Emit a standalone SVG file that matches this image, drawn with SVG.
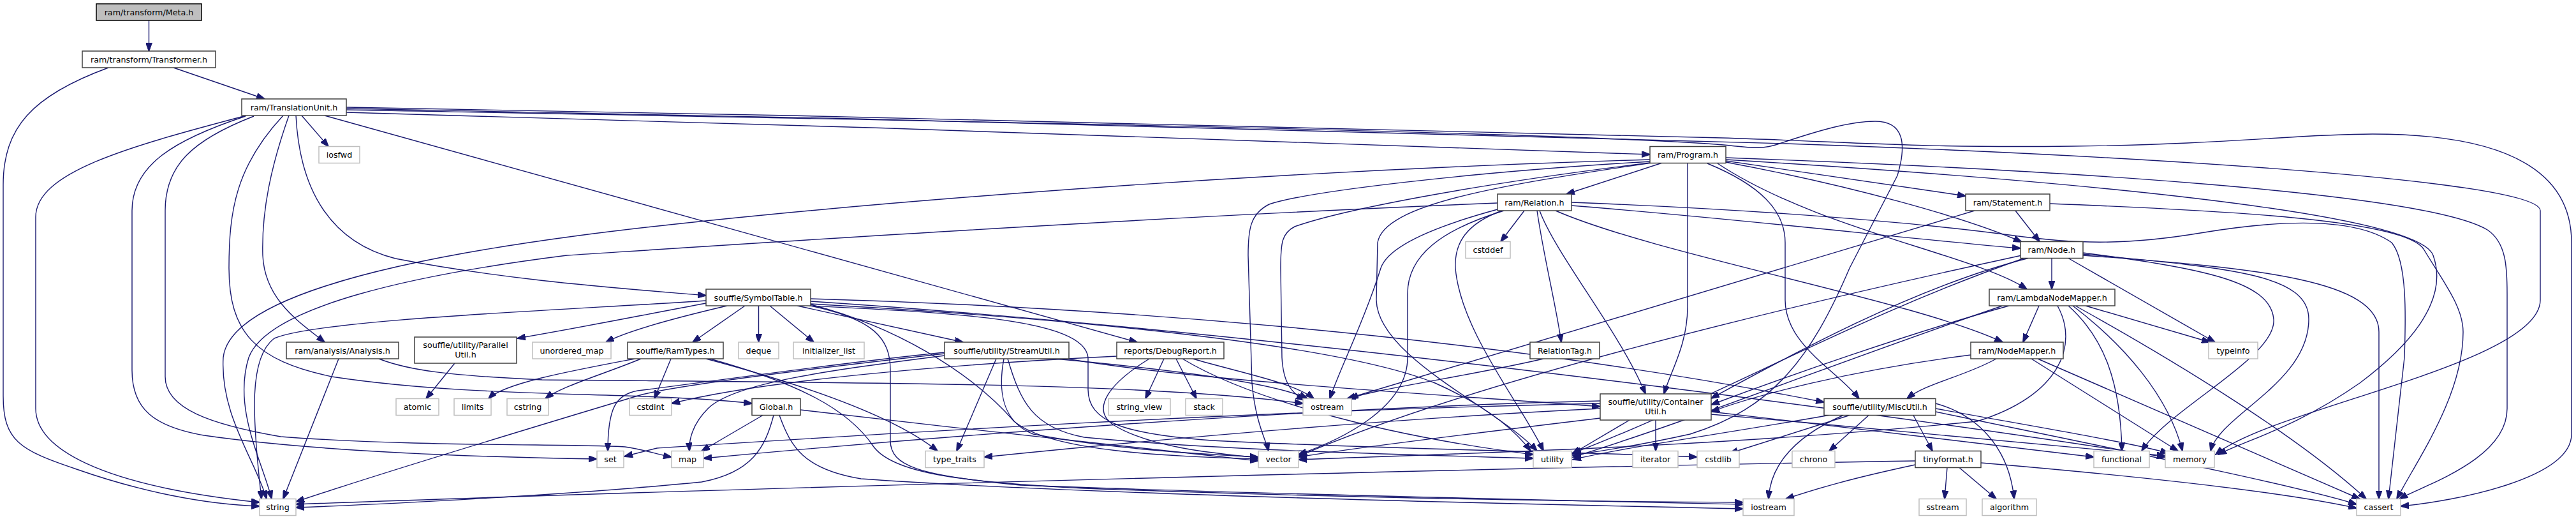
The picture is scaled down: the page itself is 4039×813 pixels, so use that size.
<svg xmlns="http://www.w3.org/2000/svg" width="4039" height="813" viewBox="0 0 4039 813">
<style>
.d{fill:#fff;stroke:#404040;stroke-width:1.5}
.s{fill:#fff;stroke:#bfbfbf;stroke-width:1.5}
.r{fill:#bfbfbf;stroke:#000;stroke-width:1.5}
text{font-family:"DejaVu Sans","Liberation Sans",sans-serif;font-size:12.7px;fill:#000;text-anchor:middle}
.e path{fill:none;stroke:#191970;stroke-width:1.4;marker-end:url(#a)}
</style>
<defs>
<marker id="a" markerWidth="14" markerHeight="10" refX="13" refY="5" orient="auto" markerUnits="userSpaceOnUse"><path d="M0,0 L14,5 L0,10 z" fill="#191970" stroke="#191970" stroke-width="1"/></marker>
</defs>
<rect width="4039" height="813" fill="#fff"/>
<g id="edges" class="e">
<path d="M233.5,32 L233.5,80"/>
<path d="M272,106 L415,155"/>
<path d="M170,106 C50,150 5,200 5,290 L5,620 C5,690 30,705 120,735 C220,770 320,790 407,793"/>
<path d="M386,181 C200,230 56,270 56,340 L56,640 C56,700 150,760 407,787"/>
<path d="M385,182 C270,220 207,260 207,330 L207,580 C207,640 240,668 320,682 C500,708 750,716 936,719"/>
<path d="M398,182 C300,220 259,260 259,330 L259,590 C259,640 330,665 440,684 C650,700 900,695 980,700 C1010,704 1030,712 1053,716"/>
<path d="M453,181 C425,260 410,330 412,400 C415,470 470,505 509,536"/>
<path d="M444,181 C370,260 359,330 359,420 C359,520 400,565 520,590 C750,625 1000,612 1179,632"/>
<path d="M464,181 C470,300 520,380 620,405 C800,440 980,452 1107,463"/>
<path d="M473,181 L515,229.5"/>
<path d="M509,181 L1783,536"/>
<path d="M543,176 C1200,192 2000,222 2587,242"/>
<path d="M543,168 C1300,180 2300,205 2700,216 C2900,222 3000,232 3250,229 C3500,226 3600,210 3720,210 C3950,210 4032,280 4032,380 L4032,680 C4032,750 3850,785 3764,793"/>
<path d="M543,170 C1300,183 2300,208 2800,225 C3300,242 3983,280 3983,330 L3983,470 C3983,570 3560,640 3474,712"/>
<path d="M543,172 C1300,186 2400,205 2690,226 C2740,230 2760,236 2790,225 C2850,205 2900,190 2940,190 C2985,190 2990,225 2975,275 L2900,420 C2840,560 2780,640 2650,680 C2560,700 2500,708 2466,713"/>
<path d="M531,562 L444,781.5"/>
<path d="M594,562 C640,580 700,588 850,595 C1400,600 1800,600 2043,632"/>
<path d="M2605,255.5 L2456,304"/>
<path d="M2706,252 L3082,307"/>
<path d="M2706,254 C2900,290 3080,340 3170,379"/>
<path d="M2693,256 C2850,360 3100,400 3178,453"/>
<path d="M2646,255.5 L2646,480 C2646,540 2620,580 2609,617"/>
<path d="M2677,256 C2760,290 2799,330 2799,380 L2799,470 C2799,540 2880,580 2915,624.5"/>
<path d="M2706,247 C3200,265 3800,300 3900,360 C3930,380 3931,420 3931,460 L3931,640 C3931,720 3800,760 3762,781.5"/>
<path d="M2706,250 C3200,280 3790,330 3815,400 C3840,470 3780,540 3700,600 C3600,670 3520,690 3478,712"/>
<path d="M2587,250 C1900,270 1200,330 900,370 C600,410 360,470 350,560 C345,650 400,720 418,781.5"/>
<path d="M2587,253 C2300,270 2050,300 1990,320 C1960,335 1957,360 1957,400 L1963,600 C1968,660 1985,690 1989,706.5"/>
<path d="M2587,255 C2300,290 2100,330 2030,355 C2010,365 2008,380 2008,420 L2010,560 C2012,600 2025,615 2045,627"/>
<path d="M2590,255 C2350,290 2170,320 2160,380 L2158,470 C2160,560 2350,640 2410,706.5"/>
<path d="M2464,322 C2750,345 3000,375 3168,389"/>
<path d="M2464,317 C2800,330 3030,352 3150,368 C3250,382 3330,385 3450,365 C3600,340 3700,345 3750,380 C3775,410 3772,500 3770,560 L3745,781.5"/>
<path d="M2439,330 C2600,400 3000,470 3140,536"/>
<path d="M2390,330 L2353,378.5"/>
<path d="M2410,330 C2420,400 2440,480 2448,536"/>
<path d="M2414,330 C2440,400 2540,520 2580,617"/>
<path d="M2355,330 C2300,350 2280,380 2282,420 C2290,520 2390,640 2420,706.5"/>
<path d="M2358,330 C2260,360 2207,400 2207,460 L2207,560 C2207,640 2100,690 2036,712"/>
<path d="M2348,328 C2230,360 2175,390 2165,420 C2140,500 2100,580 2085,624.5"/>
<path d="M2348,318 C1800,340 1200,380 889,400 C650,430 420,480 390,560 C365,640 410,720 426,781.5"/>
<path d="M3160,330 L3198,378.5"/>
<path d="M3096,330 L2112,624.5"/>
<path d="M3214,319 C3500,330 3770,345 3800,390 C3830,440 3862,480 3862,520 C3862,620 3790,720 3758,781.5"/>
<path d="M3217,404.5 L3217,453"/>
<path d="M3243,404.5 L3473,536"/>
<path d="M3266,396 C3450,420 3560,440 3565,500 C3570,560 3400,640 3358,706.5"/>
<path d="M3266,398 C3500,420 3620,430 3620,500 C3620,600 3480,650 3466,706.5"/>
<path d="M3266,400 C3550,420 3730,440 3730,520 L3730,781.5"/>
<path d="M3180,404.5 C3000,450 2800,560 2683,624"/>
<path d="M3175,404 C2900,500 2700,620 2466,710"/>
<path d="M3170,400 C2800,480 2300,600 2036,715"/>
<path d="M3197,479 L3172,536"/>
<path d="M3270,479 L3465,536"/>
<path d="M3243,479 C3300,530 3325,600 3327,706.5"/>
<path d="M3250,479 C3330,540 3400,620 3422,706.5"/>
<path d="M3254,479 C3400,560 3600,680 3710,781.5"/>
<path d="M3150,479 C3000,520 2800,590 2683,634"/>
<path d="M3140,479 C2900,560 2650,660 2466,716"/>
<path d="M3226,479 C3260,540 3230,620 3100,660 C2700,700 2300,710 2036,720"/>
<path d="M3185,562 L3415,706.5"/>
<path d="M3195,562 L3700,781.5"/>
<path d="M3090,556 C2900,580 2750,620 2683,645"/>
<path d="M3130,562 C3080,590 3020,600 2990,624.5"/>
<path d="M1168,479 L1086,536"/>
<path d="M1189.5,479 L1189.5,536"/>
<path d="M1207,479 L1276,536"/>
<path d="M1250,479 L1510,536"/>
<path d="M1107,475 C1000,495 900,515 811,530"/>
<path d="M1140,479 C1050,500 980,520 950,536"/>
<path d="M1107,471 C900,485 500,500 430,530 C390,560 395,650 410,781.5"/>
<path d="M1271,468 C1700,480 2300,520 2860,630"/>
<path d="M1271,472 C2000,520 2900,640 3395,716"/>
<path d="M1271,479 C1370,500 1396,530 1396,580 L1396,690 C1396,730 1440,745 1600,760 C2000,775 2500,785 2733,790"/>
<path d="M1271,477 C1400,510 1520,580 1590,660 C1650,710 1850,715 1973,719"/>
<path d="M1268,479 C1500,490 1700,500 1706,560 L1706,610 C1706,660 1760,680 1900,690 C2200,705 2500,708 2661,716"/>
<path d="M1271,476 C1700,500 2100,540 2250,600 C2340,640 2380,680 2400,706.5"/>
<path d="M1052,562 L1026,624.5"/>
<path d="M995,562 C900,580 790,600 766,624.5"/>
<path d="M1005,562 C950,585 880,605 855,624.5"/>
<path d="M1107,562 C1250,600 1400,650 1470,706.5"/>
<path d="M1113,562 C1250,600 1330,640 1370,700 C1400,740 1500,755 1700,765 C2100,780 2500,786 2733,787"/>
<path d="M713,569 L668,624.5"/>
<path d="M1481,557 C1300,580 1150,600 1110,640 C1085,665 1080,690 1081,706.5"/>
<path d="M1481,554 C1250,580 1050,605 1000,620 C900,650 600,740 464,786"/>
<path d="M1481,552 C1300,570 1100,600 1000,612 C965,618 953,640 953,706.5"/>
<path d="M1562,562 L1500,706.5"/>
<path d="M1574,562 C1565,610 1570,660 1620,680 C1750,705 1900,712 1973,716"/>
<path d="M1580,562 C1600,630 1620,670 1700,685 C1900,705 2200,712 2404,718"/>
<path d="M1654,562 C1850,580 2000,600 2050,624.5"/>
<path d="M1673,562 C1900,600 2300,620 2509,637"/>
<path d="M1825,562 L1796,624.5"/>
<path d="M1844,562 L1876,624.5"/>
<path d="M1802,562 C1740,600 1710,640 1745,665 C1800,700 1900,710 1973,717"/>
<path d="M1751,558 C1500,570 1200,595 1053,632"/>
<path d="M1870,562 C1950,585 2030,600 2060,624.5"/>
<path d="M1854,562 C1950,620 2150,680 2404,712"/>
<path d="M1196,650.5 L1100,706.5"/>
<path d="M1213,650.5 C1200,700 1180,740 1100,755 C900,775 600,790 464,795"/>
<path d="M1255,642 C1500,670 1800,705 1973,722"/>
<path d="M1222,650.5 C1240,700 1260,735 1350,750 C1700,775 2400,790 2733,797"/>
<path d="M2555,658 L2465,711"/>
<path d="M2596,658 L2596,706.5"/>
<path d="M2683,645 C2900,670 3150,700 3283,716"/>
<path d="M2683,649 C2950,672 3250,700 3395,714"/>
<path d="M2509,628 C2000,640 1400,690 1103,718"/>
<path d="M2509,632 C1900,645 1300,685 1030,702 L979,715"/>
<path d="M2509,640 C2100,660 1700,700 1543,716"/>
<path d="M2509,655 C2300,680 2100,705 2036,716"/>
<path d="M3000,650.5 L3030,706.5"/>
<path d="M2930,650.5 L2868,706.5"/>
<path d="M2900,650.5 L2712,710"/>
<path d="M2890,650.5 C2800,690 2775,740 2773,781.5"/>
<path d="M2870,650 C2700,680 2550,700 2466,720"/>
<path d="M3035,640 C3200,670 3350,695 3400,710"/>
<path d="M3035,645 C3300,700 3600,760 3695,790"/>
<path d="M3035,632 C3100,650 3150,700 3158,781.5"/>
<path d="M3053,732.5 L3049,781.5"/>
<path d="M3072,732.5 L3130,781.5"/>
<path d="M3106,725 C3400,750 3600,775 3695,796"/>
<path d="M3003,728 C2900,750 2850,765 2800,781.5"/>
<path d="M3003,722 C2200,735 1000,770 464,790"/>
<path d="M2420,562 C2300,590 2150,610 2117,624.5"/>
</g>
<g id="nodes">
<g id="n_meta"><rect class="r" x="151" y="6" width="165" height="26"/><text x="233.5" y="23.5">ram/transform/Meta.h</text></g>
<g id="n_transformer"><rect class="d" x="129" y="80" width="209" height="26"/><text x="233.5" y="97.5">ram/transform/Transformer.h</text></g>
<g id="n_tu"><rect class="d" x="379" y="155" width="164" height="26"/><text x="461" y="172.5">ram/TranslationUnit.h</text></g>
<g id="n_iosfwd"><rect class="s" x="500" y="229.5" width="64" height="26"/><text x="532" y="247">iosfwd</text></g>
<g id="n_program"><rect class="d" x="2587" y="229.5" width="119" height="26"/><text x="2646.5" y="247">ram/Program.h</text></g>
<g id="n_relation"><rect class="d" x="2348" y="304" width="116" height="26"/><text x="2406" y="321.5">ram/Relation.h</text></g>
<g id="n_statement"><rect class="d" x="3082" y="304" width="132" height="26"/><text x="3148" y="321.5">ram/Statement.h</text></g>
<g id="n_cstddef"><rect class="s" x="2298" y="378.5" width="70" height="26"/><text x="2333" y="396">cstddef</text></g>
<g id="n_node"><rect class="d" x="3168" y="378.5" width="98" height="26"/><text x="3217" y="396">ram/Node.h</text></g>
<g id="n_symboltable"><rect class="d" x="1107" y="453" width="164" height="26"/><text x="1189" y="470.5">souffle/SymbolTable.h</text></g>
<g id="n_lnm"><rect class="d" x="3119" y="453" width="197" height="26"/><text x="3217.5" y="470.5">ram/LambdaNodeMapper.h</text></g>
<g id="n_analysis"><rect class="d" x="449" y="536" width="176" height="26"/><text x="537" y="553.5">ram/analysis/Analysis.h</text></g>
<g id="n_parallelutil"><rect class="d" x="650" y="528" width="160" height="41"/><text x="730" y="545">souffle/utility/Parallel</text><text x="730" y="559.5">Util.h</text></g>
<g id="n_unordered_map"><rect class="s" x="835" y="536" width="123" height="26"/><text x="896.5" y="553.5">unordered_map</text></g>
<g id="n_ramtypes"><rect class="d" x="984" y="536" width="150" height="26"/><text x="1059" y="553.5">souffle/RamTypes.h</text></g>
<g id="n_deque"><rect class="s" x="1158" y="536" width="63" height="26"/><text x="1189.5" y="553.5">deque</text></g>
<g id="n_initializer_list"><rect class="s" x="1244" y="536" width="111" height="26"/><text x="1299.5" y="553.5">initializer_list</text></g>
<g id="n_streamutil"><rect class="d" x="1481" y="536" width="195" height="26"/><text x="1578.5" y="553.5">souffle/utility/StreamUtil.h</text></g>
<g id="n_debugreport"><rect class="d" x="1751" y="536" width="168" height="26"/><text x="1835" y="553.5">reports/DebugReport.h</text></g>
<g id="n_relationtag"><rect class="d" x="2399" y="536" width="109" height="26"/><text x="2453.5" y="553.5">RelationTag.h</text></g>
<g id="n_nodemapper"><rect class="d" x="3090" y="536" width="145" height="26"/><text x="3162.5" y="553.5">ram/NodeMapper.h</text></g>
<g id="n_typeinfo"><rect class="s" x="3463" y="536" width="77" height="26"/><text x="3501.5" y="553.5">typeinfo</text></g>
<g id="n_atomic"><rect class="s" x="621" y="624.5" width="67" height="26"/><text x="654.5" y="642">atomic</text></g>
<g id="n_limits"><rect class="s" x="712" y="624.5" width="58" height="26"/><text x="741" y="642">limits</text></g>
<g id="n_cstring"><rect class="s" x="795" y="624.5" width="65" height="26"/><text x="827.5" y="642">cstring</text></g>
<g id="n_cstdint"><rect class="s" x="987" y="624.5" width="66" height="26"/><text x="1020" y="642">cstdint</text></g>
<g id="n_global"><rect class="d" x="1179" y="624.5" width="76" height="26"/><text x="1217" y="642">Global.h</text></g>
<g id="n_string_view"><rect class="s" x="1738" y="624.5" width="97" height="26"/><text x="1786.5" y="642">string_view</text></g>
<g id="n_stack"><rect class="s" x="1859" y="624.5" width="58" height="26"/><text x="1888" y="642">stack</text></g>
<g id="n_ostream"><rect class="s" x="2043" y="624.5" width="76" height="26"/><text x="2081" y="642">ostream</text></g>
<g id="n_containerutil"><rect class="d" x="2509" y="617" width="174" height="41"/><text x="2596" y="634">souffle/utility/Container</text><text x="2596" y="648.5">Util.h</text></g>
<g id="n_miscutil"><rect class="d" x="2860" y="624.5" width="175" height="26"/><text x="2947.5" y="642">souffle/utility/MiscUtil.h</text></g>
<g id="n_set"><rect class="s" x="936" y="706.5" width="42" height="26"/><text x="957" y="724">set</text></g>
<g id="n_map"><rect class="s" x="1053" y="706.5" width="50" height="26"/><text x="1078" y="724">map</text></g>
<g id="n_type_traits"><rect class="s" x="1451" y="706.5" width="92" height="26"/><text x="1497" y="724">type_traits</text></g>
<g id="n_vector"><rect class="s" x="1973" y="706.5" width="63" height="26"/><text x="2004.5" y="724">vector</text></g>
<g id="n_utility"><rect class="s" x="2404" y="706.5" width="60" height="26"/><text x="2434" y="724">utility</text></g>
<g id="n_iterator"><rect class="s" x="2560" y="706.5" width="71" height="26"/><text x="2595.5" y="724">iterator</text></g>
<g id="n_cstdlib"><rect class="s" x="2661" y="706.5" width="66" height="26"/><text x="2694" y="724">cstdlib</text></g>
<g id="n_chrono"><rect class="s" x="2810" y="706.5" width="67" height="26"/><text x="2843.5" y="724">chrono</text></g>
<g id="n_tinyformat"><rect class="d" x="3003" y="706.5" width="103" height="26"/><text x="3054.5" y="724">tinyformat.h</text></g>
<g id="n_functional"><rect class="s" x="3283" y="706.5" width="87" height="26"/><text x="3326.5" y="724">functional</text></g>
<g id="n_memory"><rect class="s" x="3395" y="706.5" width="77" height="26"/><text x="3433.5" y="724">memory</text></g>
<g id="n_string"><rect class="s" x="407" y="781.5" width="57" height="26"/><text x="435.5" y="799">string</text></g>
<g id="n_iostream"><rect class="s" x="2733" y="781.5" width="80" height="26"/><text x="2773" y="799">iostream</text></g>
<g id="n_sstream"><rect class="s" x="3009" y="781.5" width="74" height="26"/><text x="3046" y="799">sstream</text></g>
<g id="n_algorithm"><rect class="s" x="3108" y="781.5" width="85" height="26"/><text x="3150.5" y="799">algorithm</text></g>
<g id="n_cassert"><rect class="s" x="3695" y="781.5" width="69" height="26"/><text x="3729.5" y="799">cassert</text></g>
</g>
</svg>
